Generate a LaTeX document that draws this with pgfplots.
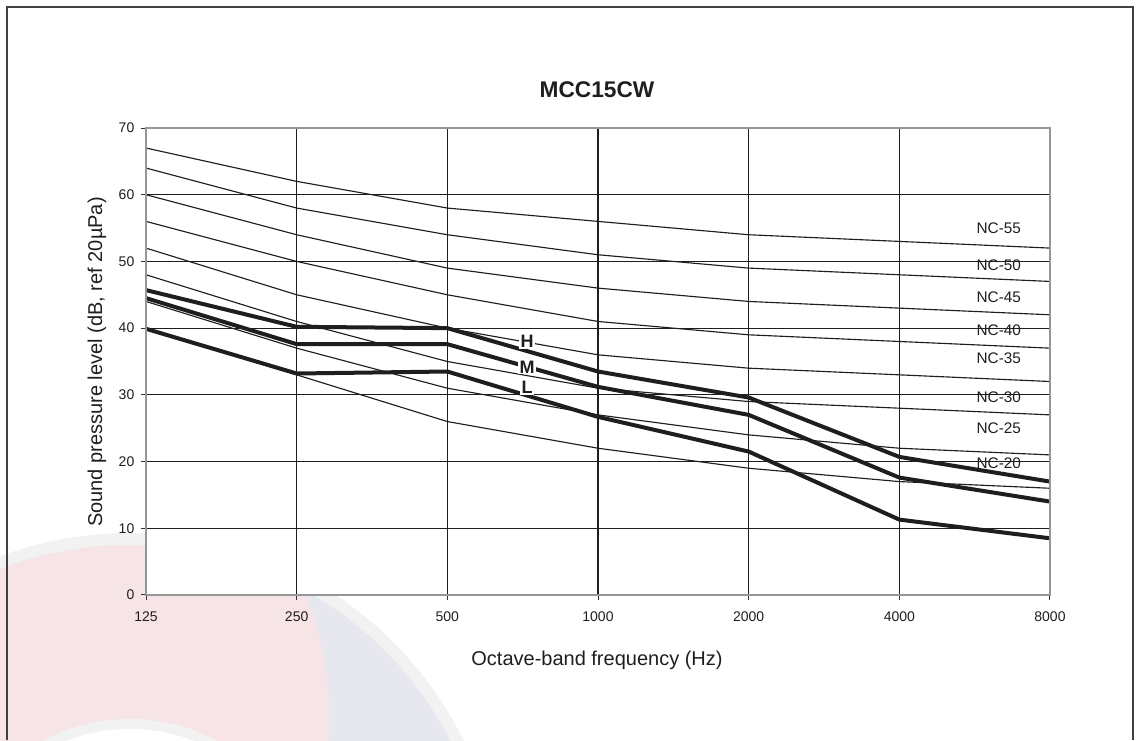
\documentclass[border=0pt]{standalone}
\usepackage{pgfplots}
\pgfplotsset{compat=1.18}
\usepackage{fontspec}
\setmainfont{Liberation Sans}
\definecolor{wpink}{RGB}{247,228,231}
\definecolor{wblue}{RGB}{231,231,240}
\definecolor{wring}{RGB}{242,242,242}
\definecolor{axgray}{RGB}{150,150,150}
\definecolor{ink}{RGB}{30,30,30}
\begin{document}
\begin{tikzpicture}[x=0.75pt,y=0.75pt]
\useasboundingbox (0,0) rectangle (1140,740);
% faint watermark
\begin{scope}
\clip (0,0) rectangle (1140,740);
\fill[wring] (130,-165) circle (372);
\fill[wblue] (130,-165) circle (360);
\begin{scope}
\clip (130,-165) circle (360);
\fill[wpink] (0,25) circle (329);
\end{scope}
\fill[wring] (130,-165) circle (186);
\fill[white] (130,-165) circle (176);
\end{scope}
% outer frame
\draw[line width=1.5pt, color=black!75] (7,0) -- (7,733) -- (1133,733) -- (1133,0);
% titles
\node[font=\fontsize{17}{20}\selectfont\bfseries, text=ink] at (597,650) {MCC15CW};
\node[font=\fontsize{15}{18}\selectfont, text=ink] at (597,80) {Octave-band frequency (Hz)};
\node[font=\fontsize{15}{18}\selectfont, text=ink, rotate=90] at (97,378) {Sound pressure level (dB, ref 20µPa)};
\begin{axis}[
  at={(109.5pt,108.75pt)}, anchor=south west,
  scale only axis, width=678pt, height=350.25pt,
  xmin=0, xmax=6, ymin=0, ymax=70,
  clip=false,
  axis background/.style={fill=white},
  axis line style={draw=none},
  xtick={0,1,2,3,4,5,6},
  xticklabels={125,250,500,1000,2000,4000,8000},
  ytick={0,10,...,70},
  xtick pos=left, ytick pos=left,
  tick align=outside, major tick length=3.75pt,
  tick style={color=black!80, line width=0.75pt},
  grid=major,
  major grid style={color=ink, line width=0.9pt},
  tick label style={font=\fontsize{10.5}{12}\selectfont, text=ink},
  xticklabel style={yshift=-5pt},
  yticklabel style={xshift=-1.5pt},
  /pgf/number format/assume math mode=true,
]
% NC curves
\pgfplotsset{nc/.style={color=ink, line width=0.85pt}}
\addplot[nc] coordinates {(0,67) (1,62) (2,58) (3,56) (4,54) (5,53) (6,52)};
\addplot[nc] coordinates {(0,64) (1,58) (2,54) (3,51) (4,49) (5,48) (6,47)};
\addplot[nc] coordinates {(0,60) (1,54) (2,49) (3,46) (4,44) (5,43) (6,42)};
\addplot[nc] coordinates {(0,56) (1,50) (2,45) (3,41) (4,39) (5,38) (6,37)};
\addplot[nc] coordinates {(0,52) (1,45) (2,40) (3,36) (4,34) (5,33) (6,32)};
\addplot[nc] coordinates {(0,48) (1,41) (2,35) (3,31) (4,29) (5,28) (6,27)};
\addplot[nc] coordinates {(0,44) (1,37) (2,31) (3,27) (4,24) (5,22) (6,21)};
\addplot[nc] coordinates {(0,40) (1,33) (2,26) (3,22) (4,19) (5,17) (6,16)};
% H / M / L
\pgfplotsset{hml/.style={color=ink, line width=3pt, line join=round}}
\addplot[hml] coordinates {(0,45.7) (1,40.2) (2,40.0) (3,33.5) (4,29.6) (5,20.7) (6,17.0)};
\addplot[hml] coordinates {(0,44.5) (1,37.6) (2,37.6) (3,31.2) (4,27.0) (5,17.6) (6,14.0)};
\addplot[hml] coordinates {(0,39.9) (1,33.2) (2,33.5) (3,26.7) (4,21.5) (5,11.3) (6,8.5)};
% axis frame
\draw[axgray, line width=1.4pt] (rel axis cs:0,0) rectangle (rel axis cs:1,1);
% labels
\tikzset{hl/.style={font=\fontsize{13.5}{15}\selectfont\bfseries, text=ink, fill=white, inner sep=1pt}}
\node[hl] at (axis cs:2.53,38.0) {H};
\node[hl] at (axis cs:2.53,34.2) {M};
\node[hl] at (axis cs:2.53,31.1) {L};
\tikzset{ncl/.style={font=\fontsize{11.5}{13}\selectfont, text=ink}}
\node[ncl] at (axis cs:5.66,55.0) {NC-55};
\node[ncl] at (axis cs:5.66,49.4) {NC-50};
\node[ncl] at (axis cs:5.66,44.7) {NC-45};
\node[ncl] at (axis cs:5.66,39.7) {NC-40};
\node[ncl] at (axis cs:5.66,35.5) {NC-35};
\node[ncl] at (axis cs:5.66,29.7) {NC-30};
\node[ncl] at (axis cs:5.66,25.0) {NC-25};
\node[ncl] at (axis cs:5.66,19.7) {NC-20};
\end{axis}
\end{tikzpicture}
\end{document}
